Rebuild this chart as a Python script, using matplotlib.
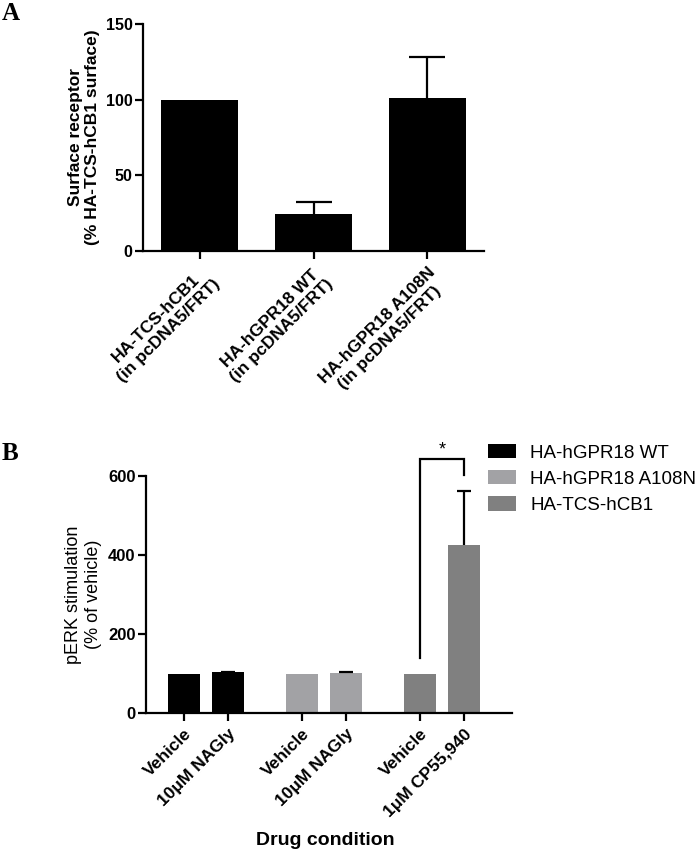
import numpy as np
import matplotlib
matplotlib.use("Agg")
import matplotlib.pyplot as plt

plt.rcParams['font.family'] = ['Liberation Sans', 'DejaVu Sans']

# Panel A data
a_labels = ["HA-TCS-hCB1\n(in pcDNA5/FRT)",
            "HA-hGPR18 WT\n(in pcDNA5/FRT)",
            "HA-hGPR18 A108N\n(in pcDNA5/FRT)"]
a_values = [100, 24.5, 101]
a_errors = [0, 8, 27]

# Panel B data
b_series = ["HA-hGPR18 WT", "HA-hGPR18 A108N", "HA-TCS-hCB1"]
b_colors = ["#000000", "#a2a2a5", "#808080"]
b_ticklabels = ["Vehicle", "10\u03bcM NAGly",
                "Vehicle", "10\u03bcM NAGly",
                "Vehicle", "1\u03bcM CP55,940"]
b_values = [[100, 104], [100, 101], [100, 425]]
b_errors = [[0, 1.5], [0, 3], [0, 137]]

W, H = 700, 852
fig = plt.figure(figsize=(W / 100, H / 100), dpi=100)

def px_axes(left, top, right, bottom):
    return fig.add_axes([left / W, 1 - bottom / H, (right - left) / W, (bottom - top) / H])

def style(ax, size):
    for s in ['top', 'right']:
        ax.spines[s].set_visible(False)
    for s in ['left', 'bottom']:
        ax.spines[s].set_linewidth(1.6)
    ax.tick_params(width=1.6, length=6)
    ax.tick_params(axis='y', labelsize=size, pad=1.5)
    for t in ax.get_yticklabels():
        t.set_fontweight('bold')

def up_errorbar(ax, x, y, err, capsize):
    # only the upper half of the error bar, no cap at the bar top
    eb = ax.errorbar(x, y, yerr=[np.zeros(len(err)), err], fmt='none',
                     ecolor='black', elinewidth=1.6, capsize=capsize, capthick=1.6)
    eb[1][0].set_visible(False)

# ---------------- Panel A ----------------
axA = px_axes(143, 24, 484, 251)
xa = np.arange(len(a_values))
axA.bar(xa, a_values, width=0.68, color='black')
up_errorbar(axA, xa[1:], a_values[1:], a_errors[1:], 13)
axA.set_xlim(-0.5, 2.5)
axA.set_ylim(0, 150)
axA.set_yticks([0, 50, 100, 150])
axA.set_xticks(xa)
axA.set_xticklabels(a_labels, rotation=45, ha='right', va='top',
                    rotation_mode='anchor', multialignment='center',
                    fontweight='bold', fontsize=12.5)
style(axA, 11.5)
axA.set_ylabel("Surface receptor\n(% HA-TCS-hCB1 surface)", fontsize=12.5,
               fontweight='bold')
axA.yaxis.set_label_coords(-0.126, 0.5)
fig.text(2 / W, 1 - 20 / H, "A", fontsize=18, fontweight='bold',
         family='Liberation Serif', ha='left', va='baseline')

# ---------------- Panel B ----------------
axB = px_axes(146, 475.7, 512, 713.3)
gap = 2.68
xb = []
for g in range(3):
    pos = [g * gap, g * gap + 1]
    xb += pos
    axB.bar(pos, b_values[g], width=0.74, color=b_colors[g], label=b_series[g])
    up_errorbar(axB, pos[1:], b_values[g][1:], b_errors[g][1:], 5)
axB.set_xlim(-0.86, 7.45)
axB.set_ylim(0, 600)
axB.set_yticks([0, 200, 400, 600])
axB.set_xticks(xb)
axB.set_xticklabels(b_ticklabels, rotation=45, ha='right', va='top',
                    rotation_mode='anchor', fontweight='bold', fontsize=12.5)
style(axB, 12)
axB.set_ylabel("pERK stimulation\n(% of vehicle)", fontsize=13)
axB.yaxis.set_label_coords(-0.12, 0.5)
axB.set_xlabel("Drug condition", fontsize=14, fontweight='bold')
axB.xaxis.set_label_coords(0.49, -0.5)

# significance bracket
x1, x2 = xb[4], xb[5]
axB.plot([x1, x1, x2, x2], [140, 643, 643, 602], color='black', lw=1.6,
         clip_on=False, solid_joinstyle='miter')
axB.text((x1 + x2) / 2, 643, "*", ha='center', va='bottom', fontsize=13)

axB.legend(loc='upper left', bbox_to_anchor=(488 / W, 1 - 444 / H),
           bbox_transform=fig.transFigure, frameon=False, fontsize=13.5,
           handlelength=1.5, handleheight=0.8, handletextpad=0.75,
           labelspacing=0.45, borderpad=0, borderaxespad=0)

fig.text(2 / W, 1 - 460 / H, "B", fontsize=18, fontweight='bold',
         family='Liberation Serif', ha='left', va='baseline')

fig.savefig("out.png", dpi=100, facecolor='white')
